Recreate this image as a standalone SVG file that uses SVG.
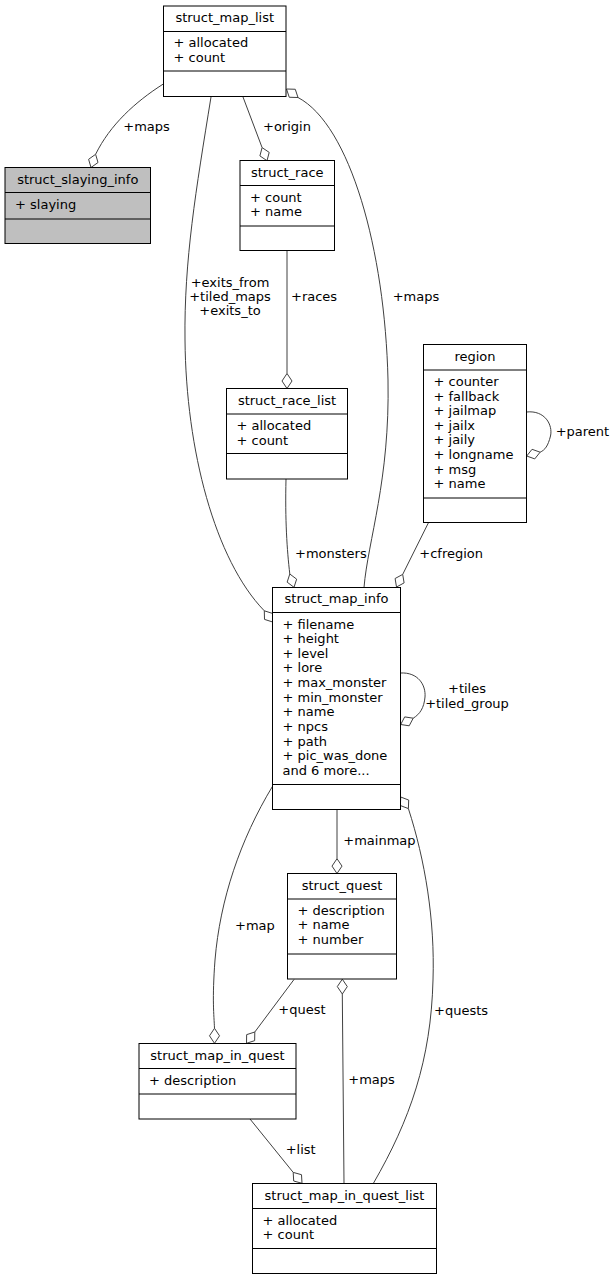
<svg xmlns="http://www.w3.org/2000/svg" width="613" height="1280" viewBox="0 0 613 1280">
<style>
text{font-family:"DejaVu Sans",sans-serif;font-size:13px;fill:#000}
.t{text-anchor:middle}
.box{fill:#fff;stroke:#000;stroke-width:1}
.gray{fill:#bfbfbf}
.ln{fill:none;stroke:#000;stroke-width:1}
.e{fill:none;stroke:#404040;stroke-width:1}
.d{fill:#fff;stroke:#404040;stroke-width:1}
.m{text-anchor:middle}
</style>
<rect width="613" height="1280" fill="#fff"/>
<g id="edges">
<path class="e" d="M163.3,84 C135,102 110,125 95.6,154.3"/>
<polygon class="d" points="91,167.5 98,162.5 95.6,154.3 88.6,159.3"/>
<text x="123.3" y="131">+maps</text>
<path class="e" d="M243,97 L262.1,147.6"/>
<polygon class="d" points="267,160.7 269.2,152.4 262.1,147.6 259.9,155.9"/>
<text x="263" y="131">+origin</text>
<path class="e" d="M211,97 C196,190 184,260 185,340 C186,450 215,560 264.3,610.8"/>
<polygon class="d" points="272.7,622 272.5,613.4 264.3,610.8 264.5,619.4"/>
<text class="m" x="230" y="286.5">+exits_from</text>
<text class="m" x="230" y="300.8">+tiled_maps</text>
<text class="m" x="230" y="315.3">+exits_to</text>
<path class="e" d="M298,97.5 C350,125 385,250 388,380 C390,480 368,540 364,587.5"/>
<polygon class="d" points="286.5,89 289.25,97.25 298,97.5 295.25,89.25"/>
<text x="392.7" y="300.7">+maps</text>
<path class="e" d="M287,250.5 L287,373.5"/>
<polygon class="d" points="287,388.5 292,381 287,373.5 282,381"/>
<text x="291" y="300.7">+races</text>
<path class="e" d="M286,479 C285,520 287,550 289.8,574"/>
<polygon class="d" points="294,587.3 296.65,579.15 289.8,574 287.15,582.15"/>
<text x="295" y="558">+monsters</text>
<path class="e" d="M526.5,412 C545,410 553,425 550.5,436 C548,446 545,450 540.1,452.2"/>
<polygon class="d" points="526.7,456 534.75,458.9 540.1,452.2 532.05,449.3"/>
<text x="555.7" y="436">+parent</text>
<path class="e" d="M428.3,523 L402.7,574.4"/>
<polygon class="d" points="396.5,587 404.1,582.9 402.7,574.4 395.1,578.5"/>
<text x="419.3" y="558">+cfregion</text>
<path class="e" d="M400.5,673 C418,672 426,685 425,697 C424,708 420,714 413.2,718.2"/>
<polygon class="d" points="400.7,724.5 409.2,725.8 413.2,718.2 404.7,716.9"/>
<text class="m" x="467" y="693.3">+tiles</text>
<text class="m" x="467" y="708.3">+tiled_group</text>
<path class="e" d="M272.7,786 C240,840 220,900 215,960 C212,1000 214,1015 214.5,1028.3"/>
<polygon class="d" points="214.5,1043.3 219.5,1035.8 214.5,1028.3 209.5,1035.8"/>
<text x="235" y="930">+map</text>
<path class="e" d="M337,809.5 L337,858.7"/>
<polygon class="d" points="337,873.5 342,866.1 337,858.7 332,866.1"/>
<text x="343.3" y="845">+mainmap</text>
<path class="e" d="M408.4,808.6 C425,860 435,920 433,980 C431,1060 410,1120 373.3,1183.5"/>
<polygon class="d" points="400.7,797 400.4,805.55 408.4,808.6 408.7,800.05"/>
<text x="434" y="1015">+quests</text>
<path class="e" d="M294,979.5 L254.8,1032"/>
<polygon class="d" points="246.5,1043.3 254.65,1040.65 254.8,1032 246.65,1034.65"/>
<text x="278.3" y="1014">+quest</text>
<path class="e" d="M344,1183.5 L342.3,994"/>
<polygon class="d" points="342.3,979.2 347.3,986.6 342.3,994 337.3,986.6"/>
<text x="348.3" y="1084">+maps</text>
<path class="e" d="M250,1119 L293.2,1172.4"/>
<polygon class="d" points="302,1183.3 301.5,1174.7 293.2,1172.4 293.7,1181"/>
<text x="285.7" y="1154.3">+list</text>
</g>
<g id="struct_map_list">
<rect class="box" x="163.5" y="6" width="122.5" height="90.5"/>
<path class="ln" d="M163.5,31.5H286M163.5,71H286"/>
<text class="t" x="224.75" y="22">struct_map_list</text>
<text x="173.5" y="47">+ allocated</text>
<text x="173.5" y="61.6">+ count</text>
</g>
<g id="struct_slaying_info">
<rect class="box gray" x="5" y="167.5" width="145.5" height="76"/>
<path class="ln" d="M5,192.5H150.5M5,219H150.5"/>
<text class="t" x="77.75" y="183.5">struct_slaying_info</text>
<text x="15" y="208.5">+ slaying</text>
</g>
<g id="struct_race">
<rect class="box" x="240" y="160.5" width="94.5" height="90"/>
<path class="ln" d="M240,185.5H334.5M240,226H334.5"/>
<text class="t" x="287.25" y="176.5">struct_race</text>
<text x="250" y="201.5">+ count</text>
<text x="250" y="216.1">+ name</text>
</g>
<g id="struct_race_list">
<rect class="box" x="226.5" y="388.5" width="121" height="90.5"/>
<path class="ln" d="M226.5,414H347.5M226.5,453.5H347.5"/>
<text class="t" x="287" y="404.5">struct_race_list</text>
<text x="236.5" y="430">+ allocated</text>
<text x="236.5" y="444.6">+ count</text>
</g>
<g id="region">
<rect class="box" x="423.5" y="344.5" width="103" height="178"/>
<path class="ln" d="M423.5,370H526.5M423.5,498H526.5"/>
<text class="t" x="475" y="360.5">region</text>
<text x="433.5" y="386">+ counter</text>
<text x="433.5" y="400.6">+ fallback</text>
<text x="433.5" y="415.2">+ jailmap</text>
<text x="433.5" y="429.8">+ jailx</text>
<text x="433.5" y="444.4">+ jaily</text>
<text x="433.5" y="459">+ longname</text>
<text x="433.5" y="473.6">+ msg</text>
<text x="433.5" y="488.2">+ name</text>
</g>
<g id="struct_map_info">
<rect class="box" x="272.5" y="587.5" width="128" height="222"/>
<path class="ln" d="M272.5,612.5H400.5M272.5,784.5H400.5"/>
<text class="t" x="336.5" y="603">struct_map_info</text>
<text x="282.5" y="628.5">+ filename</text>
<text x="282.5" y="643.15">+ height</text>
<text x="282.5" y="657.8">+ level</text>
<text x="282.5" y="672.45">+ lore</text>
<text x="282.5" y="687.1">+ max_monster</text>
<text x="282.5" y="701.75">+ min_monster</text>
<text x="282.5" y="716.4">+ name</text>
<text x="282.5" y="731.05">+ npcs</text>
<text x="282.5" y="745.7">+ path</text>
<text x="282.5" y="760.35">+ pic_was_done</text>
<text x="282.5" y="775">and 6 more...</text>
</g>
<g id="struct_quest">
<rect class="box" x="287.5" y="873.5" width="109" height="105.5"/>
<path class="ln" d="M287.5,899H396.5M287.5,954H396.5"/>
<text class="t" x="342" y="889.5">struct_quest</text>
<text x="297.5" y="914.5">+ description</text>
<text x="297.5" y="929.1">+ name</text>
<text x="297.5" y="943.7">+ number</text>
</g>
<g id="struct_map_in_quest">
<rect class="box" x="139" y="1043.5" width="157" height="75.5"/>
<path class="ln" d="M139,1068.5H296M139,1094H296"/>
<text class="t" x="217.5" y="1059.5">struct_map_in_quest</text>
<text x="149" y="1084.5">+ description</text>
</g>
<g id="struct_map_in_quest_list">
<rect class="box" x="252.5" y="1183.5" width="184" height="90"/>
<path class="ln" d="M252.5,1208.5H436.5M252.5,1248.5H436.5"/>
<text class="t" x="344.5" y="1199.5">struct_map_in_quest_list</text>
<text x="262.5" y="1224.5">+ allocated</text>
<text x="262.5" y="1239">+ count</text>
</g>
</svg>
